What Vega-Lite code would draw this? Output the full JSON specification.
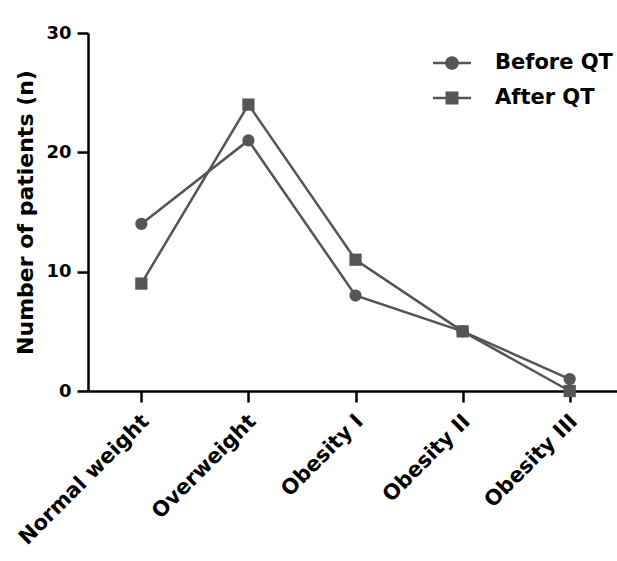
{
  "$schema": "https://vega.github.io/schema/vega-lite/v6.json",
  "width": 529,
  "height": 358,
  "autosize": {"type": "none"},
  "padding": {"left": 88, "top": 33, "right": 0, "bottom": 170},
  "background": "white",
  "config": {
    "view": {"stroke": null},
    "font": "DejaVu Sans",
    "axis": {
      "grid": false,
      "domainColor": "black",
      "domainWidth": 2.5,
      "tickColor": "black",
      "tickWidth": 2.5,
      "tickSize": 11,
      "labelColor": "black",
      "labelFontWeight": "bold",
      "labelFontSize": 18,
      "titleColor": "black",
      "titleFontWeight": "bold",
      "titleFontSize": 22
    }
  },
  "data": {
    "values": [
      {"category": "Normal weight", "series": "Before QT", "n": 14},
      {"category": "Overweight", "series": "Before QT", "n": 21},
      {"category": "Obesity I", "series": "Before QT", "n": 8},
      {"category": "Obesity II", "series": "Before QT", "n": 5},
      {"category": "Obesity III", "series": "Before QT", "n": 1},
      {"category": "Normal weight", "series": "After QT", "n": 9},
      {"category": "Overweight", "series": "After QT", "n": 24},
      {"category": "Obesity I", "series": "After QT", "n": 11},
      {"category": "Obesity II", "series": "After QT", "n": 5},
      {"category": "Obesity III", "series": "After QT", "n": 0}
    ]
  },
  "encoding": {
    "x": {
      "field": "category",
      "type": "nominal",
      "sort": ["Normal weight", "Overweight", "Obesity I", "Obesity II", "Obesity III"],
      "scale": {"type": "point", "padding": 0.47, "align": 0.53},
      "axis": {
        "title": null,
        "labelAngle": -45,
        "labelAlign": "right",
        "labelBaseline": "middle",
        "labelPadding": 16,
        "labelOffset": 4,
        "labelLimit": 400,
        "labelFontSize": 21
      }
    },
    "y": {
      "field": "n",
      "type": "quantitative",
      "scale": {"domain": [0, 30], "nice": false},
      "axis": {
        "values": [0, 10, 20, 30],
        "title": "Number of patients (n)",
        "titlePadding": 8,
        "labelPadding": 6
      }
    }
  },
  "layer": [
    {
      "mark": {"type": "line", "color": "#555555", "strokeWidth": 2.5},
      "encoding": {"detail": {"field": "series", "type": "nominal"}}
    },
    {
      "mark": {"type": "point", "filled": true, "color": "#555555", "size": 150, "opacity": 1},
      "encoding": {
        "shape": {
          "field": "series",
          "type": "nominal",
          "scale": {"domain": ["After QT", "Before QT"], "range": ["square", "circle"]},
          "legend": null
        }
      }
    },
    {
      "mark": {"type": "point", "filled": true, "color": "#555555", "size": 150, "opacity": 0},
      "encoding": {
        "shape": {
          "field": "series",
          "type": "nominal",
          "scale": {
            "domain": ["Before QT", "After QT"],
            "range": [
              "M-1,-0.07L1,-0.07L1,0.07L-1,0.07ZM0.36,0A0.36,0.36,0,1,1,-0.36,0A0.36,0.36,0,1,1,0.36,0Z",
              "M-1,-0.07L1,-0.07L1,0.07L-1,0.07ZM-0.34,-0.34L0.34,-0.34L0.34,0.34L-0.34,0.34Z"
            ]
          },
          "legend": {
            "title": null,
            "orient": "none",
            "legendX": 344,
            "legendY": 10,
            "padding": 0,
            "rowPadding": 5,
            "symbolSize": 1444,
            "symbolOpacity": 1,
            "symbolFillColor": "#555555",
            "labelOffset": 23,
            "labelFontSize": 21,
            "labelFontWeight": "bold",
            "labelColor": "black",
            "labelLimit": 300
          }
        }
      }
    }
  ],
  "resolve": {"scale": {"shape": "independent"}, "legend": {"shape": "independent"}}
}
